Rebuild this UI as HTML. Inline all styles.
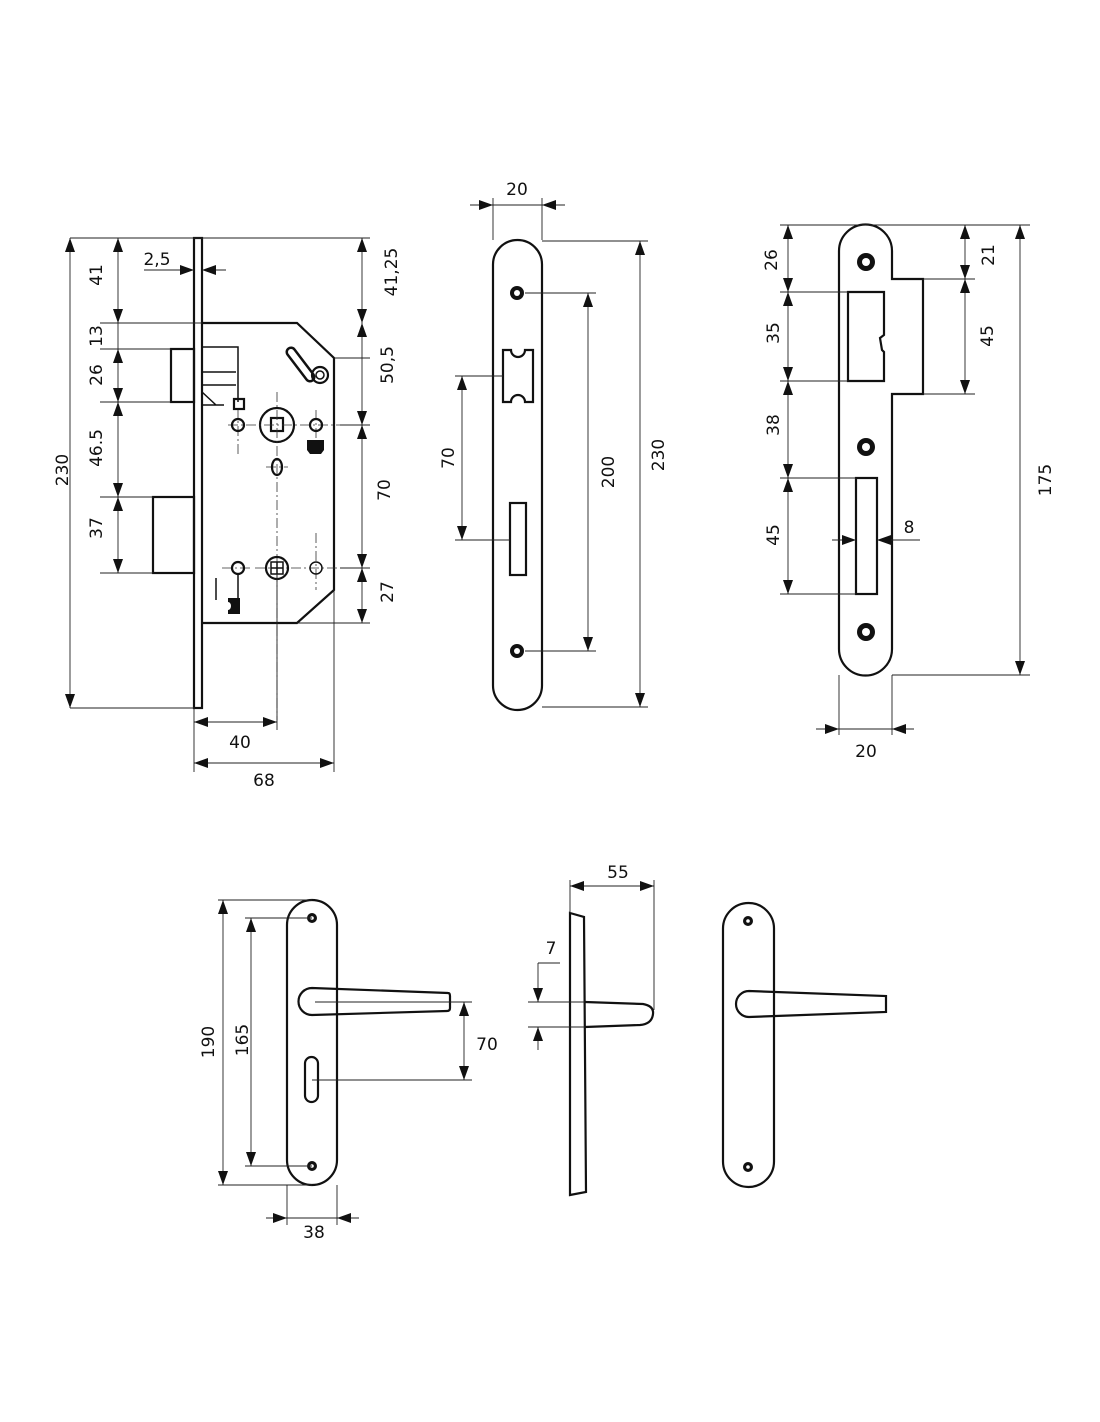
<!DOCTYPE html>
<html><head><meta charset="utf-8"><style>
html,body{margin:0;padding:0;background:#fff;}
svg{display:block;}
text{font-family:"DejaVu Sans","Liberation Sans",sans-serif;font-size:17px;fill:#111;}
.t{stroke:#111;stroke-width:2.2;fill:none;}
.m{stroke:#111;stroke-width:1.5;fill:none;}
.d{stroke:#222;stroke-width:0.9;fill:none;}
.c{stroke:#333;stroke-width:0.8;fill:none;stroke-dasharray:10 3 2 3;}
</style></head><body>
<svg width="1100" height="1422" viewBox="0 0 1100 1422" xmlns="http://www.w3.org/2000/svg">
<defs>
<marker id="a" viewBox="0 0 14 10" refX="14" refY="5" markerWidth="14" markerHeight="10" markerUnits="userSpaceOnUse" orient="auto-start-reverse"><path d="M0,0 L14,5 L0,10 z" fill="#111"/></marker>
</defs>

<!-- ===== VIEW 1 : lock body ===== -->
<rect x="194" y="238" width="8" height="470" class="t"/>
<path d="M202,323 H297 L334,358 V590 L297,623 H202" class="t"/>
<rect x="171" y="349" width="23" height="53" class="t"/>
<path d="M202,347 H238 V402 M202,372 H236 M202,385 H236 M202,392 L216,405 M202,405 H224" class="m"/>
<rect x="153" y="497" width="41" height="76" class="t"/>
<path d="M291,352 L310,377" stroke="#111" stroke-width="11" stroke-linecap="round"/>
<path d="M291,352 L310,377" stroke="#fff" stroke-width="6" stroke-linecap="round"/>
<circle cx="320" cy="375" r="8" class="t"/><circle cx="320" cy="375" r="4" class="m"/>
<circle cx="277" cy="425" r="17" class="t"/><rect x="271" y="418" width="12" height="13" class="t"/>
<path d="M228,425 H340 M277,392 V720 M238,408 V455 M316,410 V440 M266,467 H288 M316,533 V590 M222,568 H250 M255,568 H340" class="c"/>
<circle cx="238" cy="425" r="6" class="t"/><circle cx="316" cy="425" r="6" class="t"/>
<rect x="234" y="399" width="10" height="10" class="t"/>
<path d="M307,440 h17 v10 l-3,4 h-11 l-3,-4 z" fill="#111"/>
<ellipse cx="277" cy="467" rx="5" ry="8" class="t"/>
<circle cx="277" cy="568" r="11" class="t"/><rect x="271" y="562" width="12" height="12" class="m"/><path d="M277,562 V574 M271,568 H283" class="m"/>
<circle cx="238" cy="568" r="6" class="t"/><path d="M238,574 V598" class="m"/>
<circle cx="316" cy="568" r="6" class="m"/>
<path d="M216,578 V600" class="m"/>
<path d="M228,598 h12 v16 h-12 v-4 a3,4 0 0 0 0,-8 z" fill="#111"/>
<path d="M70,238 H370 M100,323 H202 M100,349 H171 M100,402 H171 M100,497 H153 M100,573 H153 M70,708 H194 M334,358 H370 M340,425 H370 M340,568 H370 M297,623 H370" class="d"/>
<path d="M70,238 V708" class="d" marker-start="url(#a)" marker-end="url(#a)"/>
<path d="M118,238 V323" class="d" marker-start="url(#a)" marker-end="url(#a)"/>
<path d="M118,349 V402" class="d" marker-start="url(#a)" marker-end="url(#a)"/>
<path d="M118,402 V497" class="d" marker-start="url(#a)" marker-end="url(#a)"/>
<path d="M118,497 V573" class="d" marker-start="url(#a)" marker-end="url(#a)"/>
<path d="M118,323 V349" class="d"/>
<path d="M362,238 V323" class="d" marker-start="url(#a)" marker-end="url(#a)"/>
<path d="M362,323 V425" class="d" marker-start="url(#a)" marker-end="url(#a)"/>
<path d="M362,425 V568" class="d" marker-start="url(#a)" marker-end="url(#a)"/>
<path d="M362,568 V623" class="d" marker-start="url(#a)" marker-end="url(#a)"/>
<path d="M144,270 H194" class="d" marker-end="url(#a)"/>
<path d="M226,270 H202" class="d" marker-end="url(#a)"/>
<path d="M194,708 V772 M277,574 V730 M334,590 V772" class="d"/>
<path d="M194,722 H277" class="d" marker-start="url(#a)" marker-end="url(#a)"/>
<path d="M194,763 H334" class="d" marker-start="url(#a)" marker-end="url(#a)"/>
<text x="157" y="265" text-anchor="middle">2,5</text>
<text x="240" y="748" text-anchor="middle">40</text>
<text x="264" y="786" text-anchor="middle">68</text>
<text transform="translate(68,470) rotate(-90)" text-anchor="middle">230</text>
<text transform="translate(102,275) rotate(-90)" text-anchor="middle">41</text>
<text transform="translate(102,336) rotate(-90)" text-anchor="middle">13</text>
<text transform="translate(102,375) rotate(-90)" text-anchor="middle">26</text>
<text transform="translate(102,448) rotate(-90)" text-anchor="middle">46.5</text>
<text transform="translate(102,528) rotate(-90)" text-anchor="middle">37</text>
<text transform="translate(397,272) rotate(-90)" text-anchor="middle">41,25</text>
<text transform="translate(393,365) rotate(-90)" text-anchor="middle">50,5</text>
<text transform="translate(390,490) rotate(-90)" text-anchor="middle">70</text>
<text transform="translate(393,592) rotate(-90)" text-anchor="middle">27</text>

<!-- ===== VIEW 2 : faceplate ===== -->
<rect x="493" y="240" width="49" height="470" rx="24.5" class="t"/>
<circle cx="517" cy="293" r="7" fill="#111"/><circle cx="517" cy="293" r="3" fill="#fff"/>
<circle cx="517" cy="651" r="7" fill="#111"/><circle cx="517" cy="651" r="3" fill="#fff"/>
<path d="M503,350 H511 a4,4 0 0 0 14,0 H533 V402 H525 a4,4 0 0 0 -14,0 H503 z" class="t"/>
<rect x="510" y="503" width="16" height="72" class="t"/>
<path d="M493,198 V240 M542,198 V240 M542,241 H648 M542,707 H648 M525,293 H596 M525,651 H596 M455,376 H503 M455,540 H510" class="d"/>
<path d="M470,205 H493" class="d" marker-end="url(#a)"/>
<path d="M565,205 H542" class="d" marker-end="url(#a)"/>
<path d="M493,205 H542" class="d"/>
<path d="M640,241 V707" class="d" marker-start="url(#a)" marker-end="url(#a)"/>
<path d="M588,293 V651" class="d" marker-start="url(#a)" marker-end="url(#a)"/>
<path d="M462,376 V540" class="d" marker-start="url(#a)" marker-end="url(#a)"/>
<text x="517" y="195" text-anchor="middle">20</text>
<text transform="translate(454,458) rotate(-90)" text-anchor="middle">70</text>
<text transform="translate(614,472) rotate(-90)" text-anchor="middle">200</text>
<text transform="translate(664,455) rotate(-90)" text-anchor="middle">230</text>

<!-- ===== VIEW 3 : strike ===== -->
<path d="M839,251 A26.5,26.5 0 0 1 892,251 V279 H923 V394 H892 V649 A26.5,26.5 0 0 1 839,649 Z" class="t"/>
<circle cx="866" cy="262" r="9" fill="#111"/><circle cx="866" cy="262" r="4" fill="#fff"/>
<circle cx="866" cy="447" r="9" fill="#111"/><circle cx="866" cy="447" r="4" fill="#fff"/>
<circle cx="866" cy="632" r="9" fill="#111"/><circle cx="866" cy="632" r="4" fill="#fff"/>
<path d="M848,292 H884 V335 L880,338 L882,350 L884,352 V381 H848 Z" class="t"/>
<rect x="856" y="478" width="21" height="116" class="t"/>
<path d="M780,225 H1030 M780,292 H848 M780,381 H848 M780,478 H856 M780,594 H856 M923,279 H975 M923,394 H975 M892,675 H1030 M839,675 V735 M892,675 V735" class="d"/>
<path d="M788,225 V292" class="d" marker-start="url(#a)" marker-end="url(#a)"/>
<path d="M788,292 V381" class="d" marker-start="url(#a)" marker-end="url(#a)"/>
<path d="M788,381 V478" class="d" marker-start="url(#a)" marker-end="url(#a)"/>
<path d="M788,478 V594" class="d" marker-start="url(#a)" marker-end="url(#a)"/>
<path d="M965,225 V279" class="d" marker-start="url(#a)" marker-end="url(#a)"/>
<path d="M965,279 V394" class="d" marker-start="url(#a)" marker-end="url(#a)"/>
<path d="M1020,225 V675" class="d" marker-start="url(#a)" marker-end="url(#a)"/>
<path d="M832,540 H856" class="d" marker-end="url(#a)"/>
<path d="M920,540 H877" class="d" marker-end="url(#a)"/>
<path d="M816,729 H839" class="d" marker-end="url(#a)"/>
<path d="M914,729 H892" class="d" marker-end="url(#a)"/>
<path d="M839,729 H892" class="d"/>
<text x="909" y="533" text-anchor="middle">8</text>
<text x="866" y="757" text-anchor="middle">20</text>
<text transform="translate(777,260) rotate(-90)" text-anchor="middle">26</text>
<text transform="translate(779,333) rotate(-90)" text-anchor="middle">35</text>
<text transform="translate(779,425) rotate(-90)" text-anchor="middle">38</text>
<text transform="translate(779,535) rotate(-90)" text-anchor="middle">45</text>
<text transform="translate(994,255) rotate(-90)" text-anchor="middle">21</text>
<text transform="translate(993,336) rotate(-90)" text-anchor="middle">45</text>
<text transform="translate(1051,480) rotate(-90)" text-anchor="middle">175</text>

<!-- ===== VIEW A ===== -->
<rect x="287" y="900" width="50" height="285" rx="25" class="t"/>
<circle cx="312" cy="918" r="5" fill="#111"/><circle cx="312" cy="918" r="1.8" fill="#fff"/>
<circle cx="312" cy="1166" r="5" fill="#111"/><circle cx="312" cy="1166" r="1.8" fill="#fff"/>
<path d="M312,988 L448,993 Q450,993 450,996 V1008 Q450,1011 447,1011 L312,1015 A13.5,13.5 0 0 1 312,988 Z" fill="#fff" class="t"/>
<path d="M315,1002 H450" class="d"/>
<rect x="305" y="1057" width="13" height="45" rx="6.5" class="t"/>
<path d="M218,900 H312 M245,918 H312 M245,1166 H312 M218,1185 H312 M450,1002 H472 M312,1080 H472 M287,1185 V1225 M337,1185 V1225" class="d"/>
<path d="M223,900 V1185" class="d" marker-start="url(#a)" marker-end="url(#a)"/>
<path d="M251,918 V1166" class="d" marker-start="url(#a)" marker-end="url(#a)"/>
<path d="M464,1002 V1080" class="d" marker-start="url(#a)" marker-end="url(#a)"/>
<path d="M266,1218 H287" class="d" marker-end="url(#a)"/>
<path d="M359,1218 H337" class="d" marker-end="url(#a)"/>
<path d="M287,1218 H337" class="d"/>
<text x="314" y="1238" text-anchor="middle">38</text>
<text x="487" y="1050" text-anchor="middle">70</text>
<text transform="translate(214,1042) rotate(-90)" text-anchor="middle">190</text>
<text transform="translate(248,1040) rotate(-90)" text-anchor="middle">165</text>

<!-- ===== VIEW B ===== -->
<path d="M570,913 L584,917 L586,1192 L570,1195 Z" class="t"/>
<path d="M585,1002 L643,1004 Q654,1006 653,1014 Q652,1024 640,1025 L585,1027" fill="#fff" class="t"/>
<path d="M570,880 V913 M654,880 V1010 M528,1002 H585 M528,1027 H585 M538,963 H560" class="d"/>
<path d="M570,886 H654" class="d" marker-start="url(#a)" marker-end="url(#a)"/>
<path d="M538,963 V1002" class="d" marker-end="url(#a)"/>
<path d="M538,1050 V1027" class="d" marker-end="url(#a)"/>
<text x="618" y="878" text-anchor="middle">55</text>
<text x="551" y="954" text-anchor="middle">7</text>

<!-- ===== VIEW C ===== -->
<rect x="723" y="903" width="51" height="284" rx="25.5" class="t"/>
<circle cx="748" cy="921" r="5" fill="#111"/><circle cx="748" cy="921" r="1.8" fill="#fff"/>
<circle cx="748" cy="1167" r="5" fill="#111"/><circle cx="748" cy="1167" r="1.8" fill="#fff"/>
<path d="M749,991 L886,996 V1012 L749,1017 A13,13 0 0 1 749,991 Z" fill="#fff" class="t"/>
</svg>
</body></html>
